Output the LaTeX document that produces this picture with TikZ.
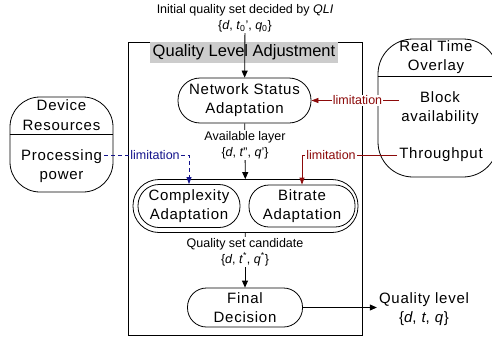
\documentclass[tikz,border=0pt]{standalone}
\usepackage{fontspec}
\setmainfont{Liberation Sans}
\newfontfamily\spacedfont[LetterSpace=5]{Liberation Sans}
\usetikzlibrary{arrows.meta, positioning}
\definecolor{qlablue}{RGB}{20, 20, 140}
\definecolor{qlared}{RGB}{140, 10, 10}
\definecolor{qlagray}{RGB}{204, 204, 204}

\begin{document}
\begin{tikzpicture}[
    x=1pt, y=-1pt,
    stadium/.style={
        draw,
        thick,
        align=center,
        inner sep=1pt,
        font=\spacedfont\fontsize{15}{19}\selectfont
    },
    panel/.style={
        draw,
        thick,
        inner sep=0pt
    },
    paneltext/.style={
        align=center,
        inner sep=2pt,
        font=\spacedfont\fontsize{15}{19.5}\selectfont
    },
    note/.style={
        align=center,
        inner sep=1pt,
        font=\fontsize{12.5}{16}\selectfont
    },
    flow/.style={
        thick,
        -{Triangle[length=7pt, width=6pt]}
    },
    limit/.style={
        fill=white,
        inner sep=1pt,
        font=\fontsize{12.5}{15}\selectfont
    },
    limitb/.style={
        thick,
        qlablue,
        dash pattern=on 4pt off 3pt,
        -{Triangle[length=7pt, width=5pt]}
    },
    limitr/.style={
        thick,
        qlared,
        -{Triangle[length=7pt, width=5pt]}
    }
]

% Page
\clip (0,0) rectangle (492,343);
\fill[white] (0,0) rectangle (492,343);

% Quality level adjustment frame
\node[panel, minimum width=234pt, minimum height=293pt] (qla) at (245,188.5) {};
\node[fill=qlagray, minimum width=188pt, minimum height=21pt, inner sep=0pt,
      font=\fontsize{16.5}{18}\selectfont] (qlatitle) at (244,52.5) {Quality Level Adjustment};

% Input
\node[note] (initset) at (245,18) {Initial quality set decided by \textit{QLI}\\
    \{\textit{d}, \textit{t}\textsubscript{0}', \textit{q}\textsubscript{0}\}};

% Adaptation stages
\node[stadium, rounded corners=22pt, minimum width=133pt, minimum height=45pt] (netstat) at (244.5,100.5) {Network Status\\Adaptation};
\node[note] (avail) at (245,145) {Available layer\\\{\textit{d}, \textit{t}'', \textit{q}'\}};
\node[stadium, rounded corners=26pt, minimum width=225pt, minimum height=53pt] (adapt) at (245.5,206) {};
\node[stadium, rounded corners=21pt, minimum width=102pt, minimum height=43pt] (complex) at (189,206) {Complexity\\Adaptation};
\node[stadium, rounded corners=20pt, minimum width=106pt, minimum height=42pt] (bitrate) at (302,206) {Bitrate\\Adaptation};
\node[note] (cand) at (245,252) {Quality set candidate\\\{\textit{d}, \textit{t}\textsuperscript{*}, \textit{q}\textsuperscript{*}\}};
\node[stadium, rounded corners=19pt, minimum width=115pt, minimum height=39pt] (final) at (245,307.5) {Final\\Decision};
\node[paneltext] (qlevel) at (424,309) {Quality level\\\{\textit{d}, \textit{t}, \textit{q}\}};

% Device resources
\node[panel, rounded corners=30pt, minimum width=103pt, minimum height=95pt] (devres) at (61.5,144.5) {};
\draw[thick] (devres.west |- 0,134) -- (devres.east |- 0,134);
\node[paneltext] (devtitle) at (61.5,115) {Device\\Resources};
\node[paneltext] (proc) at (61.5,166) {Processing\\power};

% Real time overlay
\node[panel, rounded corners=35pt, minimum width=120pt, minimum height=138pt] (rto) at (438,108) {};
\draw[thick] (rto.west |- 0,76) -- (rto.east |- 0,76);
\node[paneltext] (rtotitle) at (436,57) {Real Time\\Overlay};
\node[paneltext] (block) at (440,108) {Block\\availability};
\node[paneltext] (thru) at (441,155) {Throughput};

% Main flow
\draw[flow] (initset) -- (netstat);
\draw[thick] (netstat) -- (avail);
\draw[flow] (avail) -- (adapt);
\draw[thick] (adapt) -- (cand);
\draw[flow] (cand) -- (final);
\draw[flow] (final.east) -- (final.east -| qlevel.west);

% Limitations
\node[limit, text=qlablue] (limb) at (155,155) {limitation};
\node[limit, text=qlared] (limn) at (357.5,100.5) {limitation};
\node[limit, text=qlared] (limt) at (331,155) {limitation};
\draw[limitb] (proc.east |- limb) -- (limb) -- (limb -| complex.north) -- (complex.north);
\draw[limitr] (block.west |- limn) -- (limn) -- (netstat.east);
\draw[limitr] (thru.west) -- (limt) -- (limt -| bitrate.north) -- (bitrate.north);

\end{tikzpicture}
\end{document}
